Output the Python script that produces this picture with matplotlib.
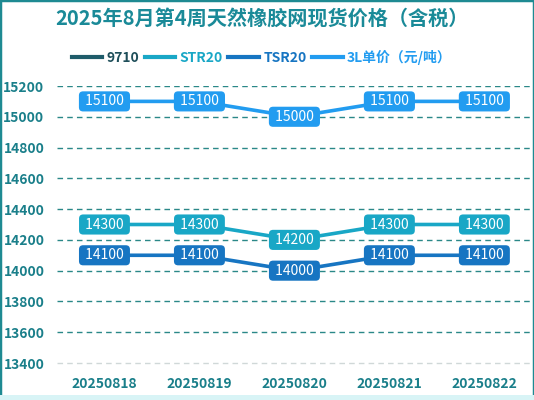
import matplotlib
matplotlib.use("Agg")
import matplotlib.pyplot as plt
from matplotlib.lines import Line2D
from matplotlib.patches import Rectangle

plt.rcParams['font.family'] = ['Noto Sans CJK SC', 'DejaVu Sans']

dates = ["20250818", "20250819", "20250820", "20250821", "20250822"]
series_names = ["9710", "STR20", "TSR20", "3L单价（元/吨）"]
v9710 = [None, None, None, None, None]
str20 = [14300, 14300, 14200, 14300, 14300]
tsr20 = [14100, 14100, 14000, 14100, 14100]
l3 = [15100, 15100, 15000, 15100, 15100]
yticks = [13400, 13600, 13800, 14000, 14200, 14400, 14600, 14800, 15000, 15200]
title = "2025年8月第4周天然橡胶网现货价格（含税）"

colors = {"9710": "#1F5C6A", "STR20": "#19A7C6", "TSR20": "#1775C2", "3L": "#229CF0"}
teal = "#1A7F8A"

fig = plt.figure(figsize=(5.34, 4.0), dpi=100)
fig.patch.set_facecolor("white")
ax = fig.add_axes([0.1067, 0.0925, 0.8893, 0.6925])
ax.set_facecolor("none")

x = list(range(len(dates)))
for vals, key in [(l3, "3L"), (str20, "STR20"), (tsr20, "TSR20")]:
    ax.plot(x, vals, color=colors[key], lw=2.6, zorder=3, solid_capstyle="round")
    for xi, v in zip(x, vals):
        ax.text(xi, v, " " + str(v) + " ", ha="center", va="center", color="white",
                fontsize=10, zorder=5,
                bbox=dict(boxstyle="round,pad=0.22,rounding_size=0.3",
                          fc=colors[key], ec="none"))

ax.set_xlim(-0.5, 4.5)
ax.set_ylim(13400, 15200)
ax.set_yticks(yticks)
ax.set_yticklabels([str(t) for t in yticks], color=teal, fontsize=10, fontweight="bold")
ax.set_xticks(x)
ax.set_xticklabels(dates, color=teal, fontsize=10, fontweight="bold")
ax.tick_params(length=0, axis="y", pad=9)
ax.tick_params(length=0, axis="x", pad=10)
for s in ax.spines.values():
    s.set_visible(False)
for t in yticks:
    if t == 13400:
        ax.axhline(t, color="#D0D8D8", lw=1, ls=(0, (4, 3)), zorder=1, clip_on=False)
    else:
        ax.axhline(t, color="#2A8888", lw=1, ls=(0, (4, 3)), zorder=1)

fig.text(0.49, 0.952, title, ha="center", va="center", color="#1A8A98",
         fontsize=14.5, fontweight="bold")

handles = [Line2D([], [], color=colors["9710"], lw=3),
           Line2D([], [], color=colors["STR20"], lw=3),
           Line2D([], [], color=colors["TSR20"], lw=3),
           Line2D([], [], color=colors["3L"], lw=3)]
leg = fig.legend(handles, series_names, loc="center", bbox_to_anchor=(0.49, 0.857),
                 ncol=4, frameon=False, fontsize=10, handlelength=2.2,
                 handletextpad=0.3, columnspacing=0.4)
for txt, key in zip(leg.get_texts(), ["9710", "STR20", "TSR20", "3L"]):
    txt.set_color(colors[key] if key != "9710" else "#1F4F5A")
    txt.set_fontweight("bold")

fig.patches.append(Rectangle((0, 0), 1, 1, transform=fig.transFigure, fill=False,
                             ec="#1E8A92", lw=2.5))
fig.patches.append(Rectangle((0, 0), 1, 0.012, transform=fig.transFigure,
                             fc="#D8F4F6", ec="none"))

fig.savefig("out.png", dpi=100)
